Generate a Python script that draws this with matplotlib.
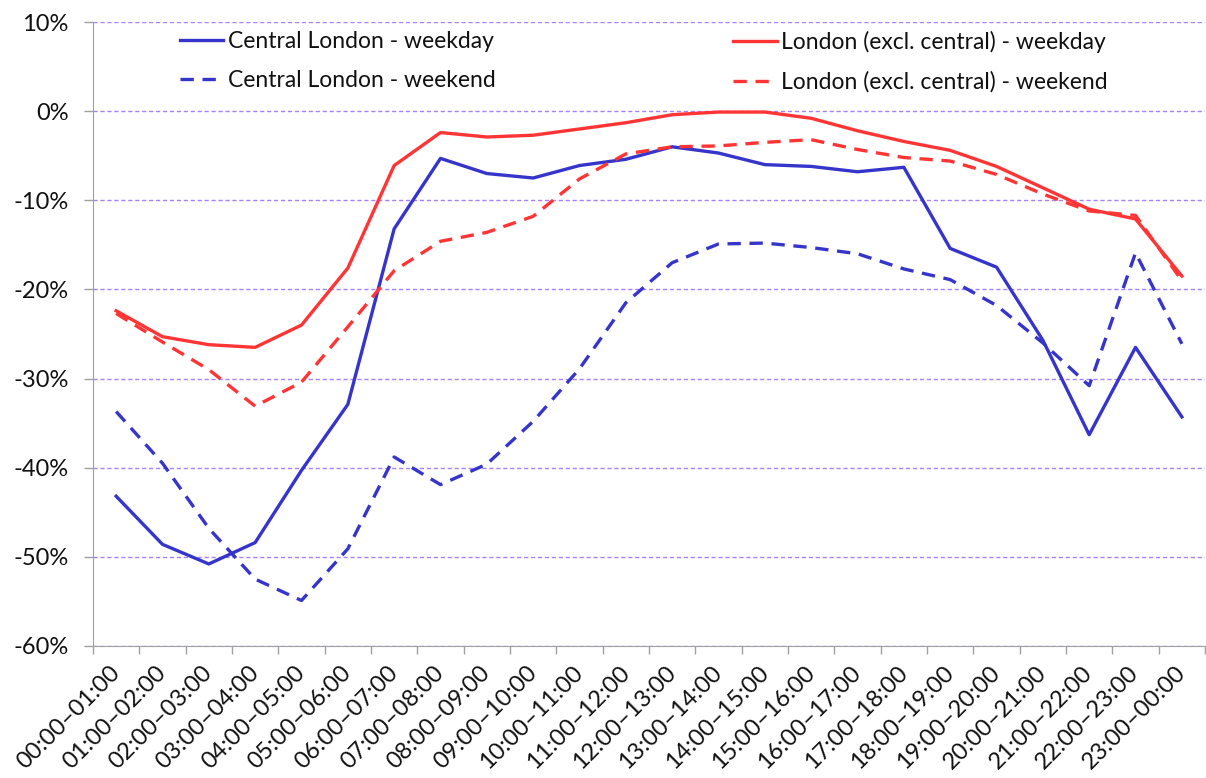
import matplotlib
matplotlib.use("Agg")
import matplotlib.pyplot as plt
import numpy as np

plt.rcParams['font.family'] = ['Lato', 'DejaVu Sans']

hours = ['00:00-01:00', '01:00-02:00', '02:00-03:00', '03:00-04:00', '04:00-05:00',
         '05:00-06:00', '06:00-07:00', '07:00-08:00', '08:00-09:00', '09:00-10:00',
         '10:00-11:00', '11:00-12:00', '12:00-13:00', '13:00-14:00', '14:00-15:00',
         '15:00-16:00', '16:00-17:00', '17:00-18:00', '18:00-19:00', '19:00-20:00',
         '20:00-21:00', '21:00-22:00', '22:00-23:00', '23:00-00:00']
hour_labels = [h.replace('-', '\u2013') for h in hours]

# % change by hour of day
central_weekday = [-43.2, -48.6, -50.8, -48.4, -40.3, -32.9, -13.2, -5.3, -7.0, -7.5,
                   -6.1, -5.4, -4.0, -4.7, -6.0, -6.2, -6.8, -6.3, -15.4, -17.5,
                   -25.7, -36.3, -26.5, -34.3]
central_weekend = [-33.7, -39.5, -46.8, -52.5, -54.9, -49.1, -38.8, -41.9, -39.6, -34.8,
                   -28.9, -21.5, -17.0, -14.9, -14.8, -15.3, -16.0, -17.7, -18.9, -21.8,
                   -26.0, -30.8, -15.9, -26.1]
outer_weekday = [-22.4, -25.3, -26.2, -26.5, -24.0, -17.6, -6.1, -2.4, -2.9, -2.7,
                 -2.0, -1.3, -0.4, -0.1, -0.1, -0.8, -2.2, -3.4, -4.4, -6.2,
                 -8.6, -11.0, -12.1, -18.5]
outer_weekend = [-22.7, -25.9, -29.0, -33.1, -30.4, -24.2, -17.9, -14.6, -13.6, -11.8,
                 -7.6, -4.8, -4.0, -3.9, -3.5, -3.2, -4.3, -5.2, -5.6, -7.1,
                 -9.3, -11.2, -11.7, -19.0]

blue = '#3535CC'
red = '#FF3535'
grey = '#A0A0A0'
ink = '#111111'

fig = plt.figure(figsize=(12.06, 7.78), dpi=100)
ax = fig.add_axes([0.0771, 0.1697, 0.9221, 0.802])

x = np.arange(len(hours)) + 0.5
dash = (4, 2.6)
l1, = ax.plot(x, central_weekday, color=blue, lw=2.4, label='Central London - weekday')
l2, = ax.plot(x, central_weekend, color=blue, lw=2.4, ls=(0, dash), label='Central London - weekend')
l3, = ax.plot(x, outer_weekday, color=red, lw=2.4, label='London (excl. central) - weekday')
l4, = ax.plot(x, outer_weekend, color=red, lw=2.4, ls=(0, dash), label='London (excl. central) - weekend')

ax.set_xlim(0, len(hours))
ax.set_ylim(-60, 10)
ax.set_yticks(np.arange(-60, 11, 10))
ax.set_yticklabels(['%d%%' % v for v in np.arange(-60, 11, 10)])
ax.yaxis.grid(True, color='#A680FF', ls=(0, (3, 2)), lw=1.0)
ax.set_axisbelow(True)

# boundary ticks between hours, labels centred on each hour
ax.set_xticks(np.arange(0, len(hours) + 1))
ax.set_xticklabels([])
ax.set_xticks(x, minor=True)
ax.set_xticklabels(hour_labels, minor=True, rotation=45, ha='right', va='center',
                   rotation_mode='anchor', fontsize=17, color=ink)
ax.tick_params(axis='x', which='major', length=6, color=grey, width=1)
ax.tick_params(axis='x', which='minor', length=0, pad=17)
ax.tick_params(axis='y', length=6.5, color=grey, width=1, labelsize=17,
               labelcolor=ink, pad=11)

for s in ['top', 'right']:
    ax.spines[s].set_visible(False)
for s in ['left', 'bottom']:
    ax.spines[s].set_color(grey)

leg_kw = dict(frameon=False, fontsize=16.5, handlelength=1.9, handletextpad=0.2,
              labelspacing=0.77, borderpad=0, borderaxespad=0, loc='upper left')
leg1 = ax.legend(handles=[l1, l2], bbox_to_anchor=(0.078, 0.985), **leg_kw)
ax.add_artist(leg1)
ax.legend(handles=[l3, l4], bbox_to_anchor=(0.5755, 0.985), **leg_kw)
for lg in [leg1, ax.get_legend()]:
    for t in lg.get_texts():
        t.set_color(ink)

fig.savefig('out.png', dpi=100)
